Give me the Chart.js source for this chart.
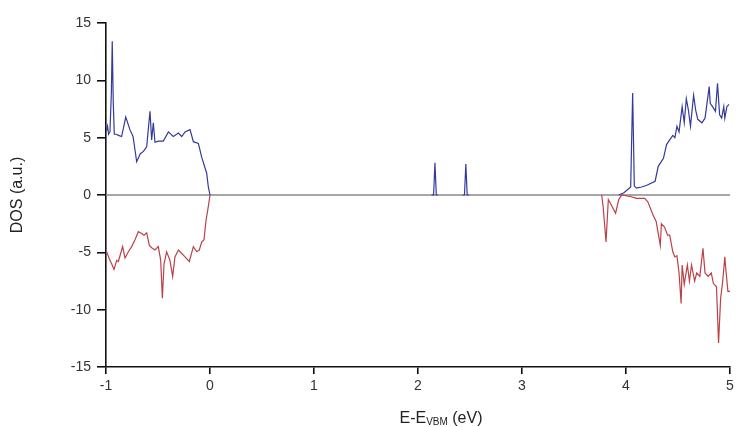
<!DOCTYPE html>
<html>
<head>
<meta charset="utf-8">
<script src="https://cdn.jsdelivr.net/npm/chart.js@4/dist/chart.umd.min.js"></script>
<style>
  html, body { margin: 0; padding: 0; background: #fff; }
  #wrap { width: 739px; height: 427px; }
</style>
</head>
<body>
<div id="wrap"><canvas id="dosChart" width="739" height="427"></canvas></div>
<script>
// spin-up DOS (null splits the curve into separate pieces)
const upEnergy = [
  -0.995, -0.985, -0.975, -0.962, -0.948, -0.94, -0.93, -0.92, -0.9, -0.88, -0.85, -0.81,
  -0.77, -0.74, -0.705, -0.67, -0.64, -0.609, -0.577, -0.561, -0.545, -0.529, -0.497,
  -0.449, -0.4, -0.353, -0.304, -0.272, -0.24, -0.192, -0.16, -0.112, -0.08, -0.032,
  -0.016, 0, 0.01,
  2.13, 2.15, 2.163, 2.176, 2.19, 2.2,
  2.43, 2.447, 2.46, 2.473, 2.49, 2.5,
  3.93, 3.98, 4.02, 4.045, 4.064, 4.08, 4.1, 4.15, 4.2, 4.28, 4.31, 4.36, 4.39, 4.42,
  4.45, 4.47, 4.49, 4.51, 4.54, 4.56, 4.58, 4.6, 4.62, 4.65, 4.67, 4.69, 4.73, 4.76,
  4.8, 4.81, 4.84, 4.86, 4.88, 4.9, 4.92, 4.94, 4.95, 4.97, 4.99
];
const upDos = [
  5.6, 6.0, 5.3, 5.5, 9.0, 13.4, 8.0, 5.3, 5.3, 5.2, 5.1, 6.8,
  5.7, 5.1, 2.9, 3.6, 3.8, 4.2, 7.3, 4.8, 6.3, 4.6, 4.7,
  4.7, 5.5, 5.1, 5.4, 5.1, 5.5, 5.7, 4.65, 4.5, 3.3, 1.9,
  0.7, 0, null,
  0, 0, 2.8, 0, 0, null,
  0, 0, 2.7, 0, 0, null,
  0, 0.2, 0.5, 0.7, 8.9, 0.8, 0.6, 0.7, 0.85, 1.2, 2.5, 3.2, 4.4, 4.8,
  5.2, 5.0, 6.0, 5.5, 7.7, 6.3, 8.4, 7.4, 6.0, 8.7, 7.4, 6.6, 6.3, 6.7,
  9.45, 8.0, 7.6, 7.3, 9.75, 7.0, 6.7, 7.7, 6.7, 7.7, 7.9
];

// spin-down DOS
const downEnergy = [
  -0.994, -0.962, -0.946, -0.923, -0.897, -0.881, -0.84, -0.817, -0.785, -0.753, -0.721,
  -0.689, -0.657, -0.635, -0.609, -0.583, -0.561, -0.529, -0.497, -0.474, -0.458, -0.442,
  -0.417, -0.385, -0.359, -0.337, -0.304, -0.272, -0.24, -0.199, -0.16, -0.128, -0.103,
  -0.08, -0.058, -0.038, -0.016, 0, 0.01,
  3.766, 3.78, 3.808, 3.83, 3.86, 3.9, 3.93, 3.96, 4.05, 4.1, 4.18, 4.21, 4.26, 4.29,
  4.33, 4.34, 4.37, 4.4, 4.42, 4.45, 4.47, 4.49, 4.51, 4.53, 4.54, 4.56, 4.59, 4.61,
  4.63, 4.66, 4.68, 4.71, 4.74, 4.76, 4.79, 4.82, 4.84, 4.87, 4.89, 4.91, 4.93, 4.95,
  4.96, 4.98, 5.0
];
const downDos = [
  -4.95, -5.7, -6.0, -6.5, -5.7, -5.8, -4.5, -5.5, -4.95, -4.5, -3.9,
  -3.2, -3.35, -3.5, -3.3, -4.4, -4.6, -4.8, -4.5, -5.7, -9.0, -6.0,
  -4.95, -5.7, -7.1, -5.4, -4.8, -5.1, -5.4, -5.8, -4.5, -4.95, -4.8,
  -4.1, -3.9, -2.2, -1.0, 0, null,
  0, -1.0, -4.1, -0.4, -0.9, -1.6, -0.4, 0, -0.15, -0.3, -0.3, -0.6, -1.75, -2.3,
  -4.4, -2.5, -2.8, -3.5, -3.5, -4.95, -5.4, -5.3, -6.8, -9.45, -6.1, -7.8, -6.1, -7.5,
  -6.1, -7.5, -6.8, -7.1, -4.65, -6.8, -7.1, -6.8, -7.7, -8.0, -12.9, -9.0, -7.5, -5.4,
  -6.5, -8.4, -8.4
];

// horizontal reference at DOS = 0
const zeroEnergy = [-1, 5];
const zeroDos = [0, 0];

const xTicks = [-1, 0, 1, 2, 3, 4, 5];
const yTicks = [-15, -10, -5, 0, 5, 10, 15];

const FONT = '"Liberation Sans", Arial, sans-serif';

function toPoints(xs, ys) {
  return xs.map((x, i) => ({ x: x, y: ys[i] }));
}

// x title with the VBM subscript
const xTitlePlugin = {
  id: 'xTitle',
  afterDraw(chart) {
    const ctx = chart.ctx;
    const big = '16px ' + FONT;
    const small = '10px ' + FONT;
    ctx.save();
    ctx.fillStyle = '#222';
    ctx.textBaseline = 'alphabetic';
    ctx.textAlign = 'left';
    ctx.font = big;
    const w1 = ctx.measureText('E-E').width;
    const w3 = ctx.measureText(' (eV)').width;
    ctx.font = small;
    const w2 = ctx.measureText('VBM').width;
    let x = 441 - (w1 + w2 + w3) / 2;
    const base = 423;
    ctx.font = big;
    ctx.fillText('E-E', x, base);
    x += w1;
    ctx.font = small;
    ctx.fillText('VBM', x, base + 2);
    x += w2;
    ctx.font = big;
    ctx.fillText(' (eV)', x, base);
    ctx.restore();
  }
};

function renderChart() {
  const ctx = document.getElementById('dosChart').getContext('2d');
  new Chart(ctx, {
    type: 'line',
    data: {
      datasets: [
        {
          label: 'up',
          data: toPoints(upEnergy, upDos),
          borderColor: '#333a9c',
          borderWidth: 1.2,
          pointRadius: 0,
          spanGaps: false,
          tension: 0
        },
        {
          label: 'down',
          data: toPoints(downEnergy, downDos),
          borderColor: '#bb4148',
          borderWidth: 1.2,
          pointRadius: 0,
          spanGaps: false,
          tension: 0
        },
        {
          label: 'zero',
          data: toPoints(zeroEnergy, zeroDos),
          borderColor: '#8a8a8a',
          borderWidth: 1.5,
          pointRadius: 0
        }
      ]
    },
    options: {
      responsive: false,
      animation: false,
      layout: { padding: { top: 23, right: 9, left: 0, bottom: 0 } },
      plugins: {
        legend: { display: false },
        tooltip: { enabled: false }
      },
      scales: {
        x: {
          type: 'linear',
          min: -1,
          max: 5,
          afterFit(scale) { scale.height = 60; },
          afterBuildTicks(scale) { scale.ticks = xTicks.map(v => ({ value: v })); },
          border: { display: true, color: '#111', width: 1.6 },
          grid: { drawOnChartArea: false, drawTicks: true, tickLength: 7, color: '#111', lineWidth: 1.6 },
          ticks: {
            color: '#333',
            padding: 4,
            maxRotation: 0,
            font: { family: FONT, size: 14 }
          }
        },
        y: {
          min: -15,
          max: 15,
          afterFit(scale) { scale.width = 106; },
          afterBuildTicks(scale) { scale.ticks = yTicks.map(v => ({ value: v })); },
          border: { display: true, color: '#111', width: 1.6 },
          grid: { drawOnChartArea: false, drawTicks: true, tickLength: 9, color: '#111', lineWidth: 1.6 },
          ticks: {
            color: '#333',
            padding: 6,
            font: { family: FONT, size: 14 }
          },
          title: {
            display: true,
            text: 'DOS (a.u.)',
            color: '#222',
            padding: { top: 8, bottom: 0 },
            font: { family: FONT, size: 16 }
          }
        }
      }
    },
    plugins: [xTitlePlugin]
  });
}
window.onload = renderChart;
</script>
</body>
</html>
